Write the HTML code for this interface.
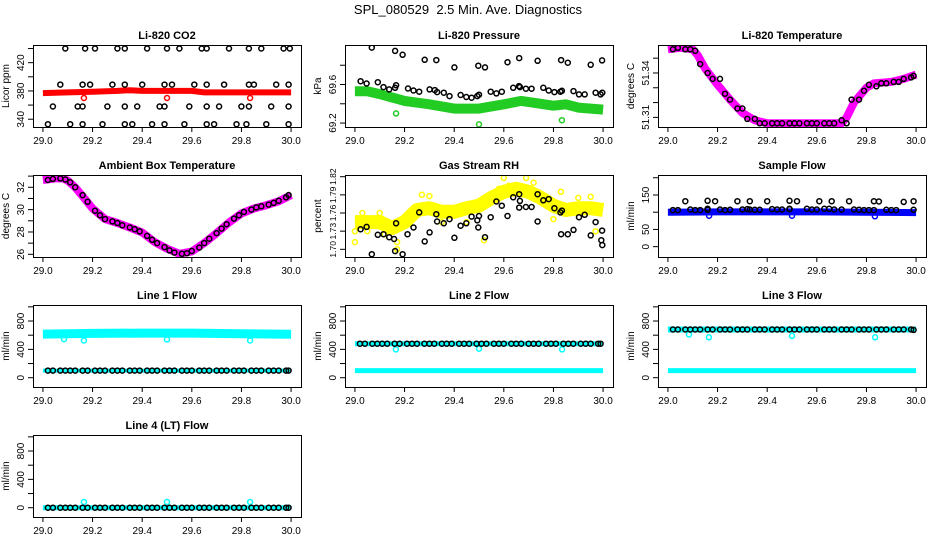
<!DOCTYPE html>
<html><head><meta charset="utf-8">
<style>
html,body{margin:0;padding:0;background:#fff;}
svg{display:block;font-family:"Liberation Sans",Arial,sans-serif;}
</style></head>
<body>
<svg id="chart" width="936" height="540" viewBox="0 0 936 540" xmlns="http://www.w3.org/2000/svg">
<rect x="0" y="0" width="936" height="540" fill="#fff"/>
<text x="468" y="14" text-anchor="middle" font-size="13" xml:space="preserve" style="white-space:pre">SPL_080529  2.5 Min. Ave. Diagnostics</text>
</svg>
<script>
// ---------- data ----------
const xTicks = [29.0, 29.2, 29.4, 29.6, 29.8, 30.0];
const xTickLabels = ["29.0","29.2","29.4","29.6","29.8","30.0"];
const t = [29.02,29.04,29.07,29.09,29.11,29.13,29.16,29.18,29.21,29.23,29.25,29.28,29.30,29.32,29.35,29.37,29.39,29.42,29.44,29.46,29.49,29.51,29.53,29.56,29.58,29.60,29.63,29.65,29.67,29.70,29.72,29.74,29.77,29.79,29.81,29.84,29.86,29.88,29.91,29.93,29.95,29.98,29.99];

// CO2
const co2BandX = [29.0,29.1,29.2,29.3,29.35,29.4,29.5,29.6,29.65,29.7,29.8,29.9,30.0];
const co2BandY = [377,378,379,380,381,380,380,380,378,378,378,378,378];
const co2OutX = [29.165,29.5,29.835];
const co2OutY = [370,370,370];
const co2X = [29.09,29.17,29.21,29.30,29.33,29.42,29.50,29.55,29.64,29.66,29.75,29.83,29.88,29.97,29.995,
 29.07,29.16,29.19,29.28,29.33,29.40,29.49,29.52,29.61,29.66,29.73,29.83,29.85,29.94,29.99,
 29.04,29.14,29.16,29.26,29.33,29.38,29.47,29.49,29.59,29.66,29.71,29.80,29.83,29.92,29.99,
 29.02,29.11,29.16,29.24,29.33,29.36,29.44,29.49,29.57,29.66,29.69,29.78,29.82,29.90,29.99];
const co2Y = [440,440,440,440,440,440,440,440,440,440,440,440,440,440,440,
 389,389,389,389,389,389,389,389,389,389,389,389,389,389,389,
 358,358,358,358,358,358,358,358,358,358,358,358,358,358,358,
 333,333,333,333,333,333,333,333,333,333,333,333,333,333,333];

// Pressure
const presBandX = [29.0,29.05,29.1,29.2,29.3,29.4,29.5,29.6,29.67,29.75,29.8,29.85,29.9,30.0];
const presBandY = [69.53,69.53,69.50,69.43,69.395,69.35,69.35,69.395,69.43,69.40,69.38,69.395,69.36,69.34];
const presOutX = [29.166,29.5,29.834];
const presOutY = [69.30,69.186,69.23];
const presX = [29.023,29.047,29.092,29.115,29.138,29.162,29.166,29.214,29.236,29.259,29.301,29.322,29.331,29.358,29.381,29.426,29.449,29.470,29.493,29.5,29.547,29.570,29.592,29.638,29.661,29.665,29.689,29.712,29.759,29.781,29.804,29.828,29.834,29.881,29.903,29.926,29.970,29.997,29.99,
 29.068,29.162,29.192,29.281,29.328,29.401,29.497,29.524,29.615,29.662,29.736,29.831,29.858,29.95,29.996];
const presY = [69.634,69.610,69.624,69.573,69.549,69.566,69.593,69.559,69.538,69.525,69.549,69.542,69.521,69.515,69.480,69.491,69.470,69.463,69.480,69.494,69.525,69.508,69.525,69.566,69.583,69.573,69.556,69.556,69.566,69.538,69.521,69.525,69.535,69.532,69.497,69.497,69.515,69.515,69.497,
 69.983,69.949,69.908,69.856,69.853,69.778,69.795,69.778,69.832,69.874,69.846,69.853,69.826,69.805,69.850];

// Li-820 temperature
const tmpBandX = [29.0,29.05,29.1,29.12,29.15,29.2,29.25,29.3,29.35,29.4,29.7,29.72,29.75,29.8,29.83,29.9,29.95,30.0];
const tmpBandY = [51.356,51.357,51.356,51.352,51.343,51.332,51.322,51.313,51.308,51.306,51.306,51.310,51.320,51.330,51.333,51.334,51.336,51.339];
const tmpY = [51.356,51.357,51.356,51.356,51.355,51.346,51.340,51.336,51.336,51.326,51.322,51.316,51.316,51.309,51.309,51.306,51.306,51.306,51.306,51.306,51.306,51.306,51.306,51.306,51.306,51.306,51.306,51.306,51.306,51.308,51.306,51.322,51.322,51.328,51.332,51.331,51.333,51.333,51.334,51.334,51.336,51.337,51.338];

// Ambient box temperature
const ambBandX = [29.0,29.05,29.08,29.1,29.13,29.16,29.2,29.25,29.3,29.35,29.4,29.45,29.5,29.55,29.6,29.65,29.7,29.75,29.8,29.85,29.9,29.95,30.0];
const ambBandY = [32.65,32.8,32.8,32.6,32.0,31.2,30.1,29.15,28.8,28.4,27.95,27.1,26.5,26.05,26.25,27.0,27.9,28.85,29.65,30.1,30.4,30.75,31.3];
const ambY = [32.65,32.75,32.8,32.7,32.45,32.0,31.3,30.7,29.9,29.5,29.15,28.95,28.8,28.6,28.4,28.25,28.05,27.65,27.3,27.0,26.65,26.35,26.15,26.05,26.1,26.3,26.6,27.0,27.4,27.9,28.3,28.7,29.2,29.5,29.8,30.0,30.2,30.3,30.45,30.6,30.8,31.1,31.3];

// Gas stream RH
const rhBandX = [29.0,29.05,29.1,29.15,29.2,29.25,29.3,29.35,29.4,29.45,29.5,29.55,29.6,29.65,29.7,29.75,29.8,29.85,29.9,29.95,30.0];
const rhBandY = [1.745,1.745,1.745,1.735,1.745,1.765,1.768,1.762,1.762,1.768,1.772,1.785,1.795,1.800,1.795,1.785,1.772,1.765,1.768,1.768,1.765];
const rhYelX = [29.0,29.05,29.17,29.27,29.3,29.52,29.6,29.69,29.72,29.83,29.95,29.97,29.17,29.45,29.03,29.62,29.58,29.1,29.0,29.12,29.35,29.8,29.9];
const rhYelY = [1.712,1.730,1.700,1.790,1.788,1.715,1.818,1.818,1.810,1.795,1.787,1.730,1.712,1.745,1.760,1.805,1.800,1.760,1.730,1.725,1.745,1.750,1.785];
const rhX = [29.023,29.047,29.092,29.115,29.138,29.158,29.166,29.162,29.192,29.212,29.236,29.259,29.281,29.301,29.328,29.331,29.358,29.381,29.401,29.426,29.449,29.470,29.493,29.497,29.5,29.524,29.547,29.570,29.592,29.615,29.638,29.662,29.662,29.665,29.689,29.712,29.736,29.736,29.759,29.781,29.804,29.828,29.834,29.831,29.858,29.881,29.903,29.926,29.95,29.970,29.996,29.993,29.997,29.068];
const rhY = [1.733,1.737,1.724,1.725,1.720,1.717,1.743,1.697,1.692,1.725,1.736,1.761,1.713,1.728,1.758,1.746,1.743,1.750,1.719,1.739,1.743,1.754,1.748,1.736,1.755,1.720,1.753,1.779,1.772,1.755,1.786,1.791,1.769,1.780,1.770,1.770,1.791,1.746,1.781,1.783,1.768,1.761,1.764,1.725,1.725,1.732,1.753,1.757,1.723,1.745,1.731,1.715,1.707,1.692];

// Sample flow
const sfBandX = [29.0,29.2,29.4,29.6,29.8,30.0];
const sfBandY = [100,101,101,101,100,99];
const sfOutX = [29.166,29.5,29.834];
const sfOutY = [90,90,88];
const sfX = [29.02,29.04,29.09,29.11,29.13,29.16,29.16,29.21,29.23,29.25,29.30,29.32,29.33,29.35,29.37,29.42,29.44,29.46,29.49,29.49,29.56,29.58,29.60,29.63,29.65,29.67,29.70,29.75,29.77,29.79,29.81,29.83,29.88,29.90,29.92,29.99,
 29.07,29.16,29.19,29.28,29.33,29.40,29.49,29.52,29.61,29.66,29.73,29.83,29.85,29.95,29.99];
const sfY = [106,106,108,106,106,107,110,108,106,107,108,109,108,107,107,109,108,108,109,110,110,108,108,110,110,108,108,108,107,106,106,106,107,106,106,107,
 132,133,132,132,132,132,133,132,132,132,132,132,131,130,132];

// Line flows
const l1BandX = [29.0,29.2,29.4,29.6,29.8,30.0];
const l1BandY = [615,625,630,630,620,612];
const l1LowX = [29.0,30.0];
const l1LowY = [100,100];
const l1OutX = [29.085,29.165,29.5,29.835];
const l1OutY = [545,525,540,525];
const l1Black = [100,100,100,100,100,100,100,100,100,100,100,100,100,100,100,100,100,100,100,100,100,100,100,100,100,100,100,100,100,100,100,100,100,100,100,100,100,100,100,100,100,100,100];

const l2BandX = [29.0,30.0];
const l2BandY = [480,480];
const l2LowX = [29.0,30.0];
const l2LowY = [100,100];
const l2OutX = [29.165,29.5,29.835];
const l2OutY = [400,410,400];
const l2Black = [480,480,480,480,480,480,480,480,480,480,480,480,480,480,480,480,480,480,480,480,480,480,480,480,480,480,480,480,480,480,480,480,480,480,480,480,480,480,480,480,480,480,480];

const l3BandX = [29.0,30.0];
const l3BandY = [680,680];
const l3LowX = [29.0,30.0];
const l3LowY = [100,100];
const l3OutX = [29.085,29.165,29.5,29.835];
const l3OutY = [610,570,590,570];
const l3Black = [680,680,680,680,680,680,680,680,680,680,680,680,680,680,680,680,680,680,680,680,680,680,680,680,680,680,680,680,680,680,680,680,680,680,680,680,680,680,680,680,680,680,675];

const l4BandX = [29.0,30.0];
const l4BandY = [0,0];
const l4OutX = [29.165,29.5,29.835];
const l4OutY = [80,80,80];
const l4Black = [0,0,0,0,0,0,0,0,0,0,0,0,0,0,0,0,0,0,0,0,0,0,0,0,0,0,0,0,0,0,0,0,0,0,0,0,0,0,0,0,0,0,0];

const flowTicks = [0,200,400,600,800,1000];
const flowLabels = ["0","","400","","800",""];

// ---------- drawing ----------
const NS = "http://www.w3.org/2000/svg";
const svg = document.getElementById("chart");
function mk(tag, attrs, parent){
  const e = document.createElementNS(NS, tag);
  for (const k in attrs) e.setAttribute(k, attrs[k]);
  (parent||svg).appendChild(e);
  return e;
}
const COLS = [33,345,658], ROWS = [45,175,305,435], W = 268, H = 82;
const XMIN = 28.96, XMAX = 30.04;

function panel(slug, title, ylab, col, row, ylo, yhi, yticks, ylabels, yfs){
  const L = COLS[col], T = ROWS[row];
  const g = mk("g", {});
  
  
  const sx = v => L + W * (v - XMIN) / (XMAX - XMIN);
  const sy = v => T + H - H * (v - ylo) / (yhi - ylo);
  const tt = mk("text", {x: L + W/2, y: T - 6, "text-anchor": "middle", "font-size": 11, "font-weight": "bold"}, g);
  tt.textContent = title;
  
  
  const ax = mk("g", {stroke: "#000", "stroke-width": 1, fill: "none"}, g);
  
  
  mk("line", {x1: sx(xTicks[0]), x2: sx(xTicks[xTicks.length-1]), y1: T+H+0.5, y2: T+H+0.5}, ax);
  xTicks.forEach((v, i) => {
    mk("line", {x1: sx(v), x2: sx(v), y1: T+H, y2: T+H+5}, ax);
    const lb = mk("text", {x: sx(v), y: T+H+17, "text-anchor": "middle", "font-size": 10}, g);
    lb.textContent = xTickLabels[i];
    
    
  });
  yticks.forEach((v, i) => {
    const y = sy(v);
    if (y < T - 1 || y > T + H + 1) return;
    mk("line", {x1: L-5, x2: L, y1: y, y2: y}, ax);
    if (ylabels[i]) {
      const lb = mk("text", {x: L-9, y: y, "text-anchor": "middle", "font-size": yfs || 10, transform: `rotate(-90 ${L-9} ${y})`}, g);
      lb.textContent = ylabels[i];
      
      
    }
  });
  const yl = mk("text", {x: L-24, y: T+H/2, "text-anchor": "middle", "font-size": 10, transform: `rotate(-90 ${L-24} ${T+H/2})`}, g);
  yl.textContent = ylab;
  
  
  const clipId = "clip-" + slug;
  const cp = mk("clipPath", {id: clipId}, g);
  mk("rect", {x: L, y: T, width: W, height: H}, cp);
  const plot = mk("g", {"clip-path": `url(#${clipId})`}, g);
  
  
  const box = mk("rect", {x: L+0.5, y: T+0.5, width: W, height: H, fill: "none", stroke: "#000", "stroke-width": 1}, g);
  
  
  return {
    band(xs, ys, color, width, name){
      const pts = xs.map((x, i) => sx(x).toFixed(1) + "," + sy(ys[i]).toFixed(1)).join(" ");
      const pl = mk("polyline", {points: pts, fill: "none", stroke: color, "stroke-width": width, "stroke-linejoin": "round", "stroke-linecap": "butt"}, plot);
      
      
    },
    pts(xs, ys, color, name){
      const pg = mk("g", {fill: "none", stroke: color, "stroke-width": 1.5}, plot);
      
      
      xs.forEach((x, i) => {
        const c = mk("circle", {cx: sx(x).toFixed(1), cy: sy(ys[i]).toFixed(1), r: 2.5}, pg);
        
        
      });
    }
  };
}

// Li-820 CO2
let p = panel("co2", "Li-820 CO2", "Licor ppm", 0, 0, 329, 445, [340,360,380,400,420,440], ["340","","380","","420",""]);
p.band(co2BandX, co2BandY, "#ff0000", 6, "co2-band");
p.pts(co2OutX, co2OutY, "#ff0000", "co2-red-outliers");
p.pts(co2X, co2Y, "#000", "co2-black-points");

// Pressure
p = panel("pressure", "Li-820 Pressure", "kPa", 1, 0, 69.159, 70.01, [69.2,69.4,69.6,69.8], ["69.2","","69.6",""]);
p.band(presBandX, presBandY, "#22cc22", 10, "pressure-band");
p.pts(presOutX, presOutY, "#22cc22", "pressure-green-outliers");
p.pts(presX, presY, "#000", "pressure-black-points");

// Li-820 temperature
p = panel("li820-temp", "Li-820 Temperature", "degrees C", 2, 0, 51.3035, 51.3589, [51.30,51.31,51.32,51.33,51.34,51.35], ["","51.31","","","51.34",""]);
p.band(tmpBandX, tmpBandY, "#ff00ff", 8, "li820-temp-band");
p.pts(t, tmpY, "#000", "li820-temp-black-points");

// Ambient box temperature
p = panel("ambient-temp", "Ambient Box Temperature", "degrees C", 0, 1, 25.76, 33.1, [26,27,28,29,30,31,32,33], ["26","","28","","30","","32",""]);
p.band(ambBandX, ambBandY, "#ff00ff", 8, "ambient-temp-band");
p.pts(t, ambY, "#000", "ambient-temp-black-points");

// Gas stream RH
p = panel("rh", "Gas Stream RH", "percent", 1, 1, 1.6873, 1.8228, [1.70,1.73,1.76,1.79,1.82], ["1.70","1.73","1.76","1.79","1.82"], 8.5);
p.band(rhBandX, rhBandY, "#ffff00", 14, "rh-band");
p.pts(rhYelX, rhYelY, "#ffff00", "rh-yellow-points");
p.pts(rhX, rhY, "#000", "rh-black-points");

// Sample flow
p = panel("sample-flow", "Sample Flow", "ml/min", 2, 1, -30, 208, [0,50,100,150,200], ["0","50","","150",""]);
p.band(sfBandX, sfBandY, "#0000ff", 7, "sample-flow-band");
p.pts(sfOutX, sfOutY, "#0000ff", "sample-flow-blue-outliers");
p.pts(sfX, sfY, "#000", "sample-flow-black-points");

// Line 1
p = panel("line1-flow", "Line 1 Flow", "ml/min", 0, 2, -131, 1026, flowTicks, flowLabels);
p.band(l1BandX, l1BandY, "#00ffff", 9, "line1-upper-band");
p.band(l1LowX, l1LowY, "#00ffff", 4, "line1-lower-band");
p.pts(l1OutX, l1OutY, "#00ffff", "line1-cyan-outliers");
p.pts(t, l1Black, "#000", "line1-black-points");

// Line 2
p = panel("line2-flow", "Line 2 Flow", "ml/min", 1, 2, -131, 1026, flowTicks, flowLabels);
p.band(l2BandX, l2BandY, "#00ffff", 5, "line2-upper-band");
p.band(l2LowX, l2LowY, "#00ffff", 5, "line2-lower-band");
p.pts(l2OutX, l2OutY, "#00ffff", "line2-cyan-outliers");
p.pts(t, l2Black, "#000", "line2-black-points");

// Line 3
p = panel("line3-flow", "Line 3 Flow", "ml/min", 2, 2, -131, 1026, flowTicks, flowLabels);
p.band(l3BandX, l3BandY, "#00ffff", 6, "line3-upper-band");
p.band(l3LowX, l3LowY, "#00ffff", 5, "line3-lower-band");
p.pts(l3OutX, l3OutY, "#00ffff", "line3-cyan-outliers");
p.pts(t, l3Black, "#000", "line3-black-points");

// Line 4
p = panel("line4-flow", "Line 4 (LT) Flow", "ml/min", 0, 3, -131, 1026, flowTicks, flowLabels);
p.band(l4BandX, l4BandY, "#00ffff", 5, "line4-band");
p.pts(l4OutX, l4OutY, "#00ffff", "line4-cyan-outliers");
p.pts(t, l4Black, "#000", "line4-black-points");
</script>
</body></html>
